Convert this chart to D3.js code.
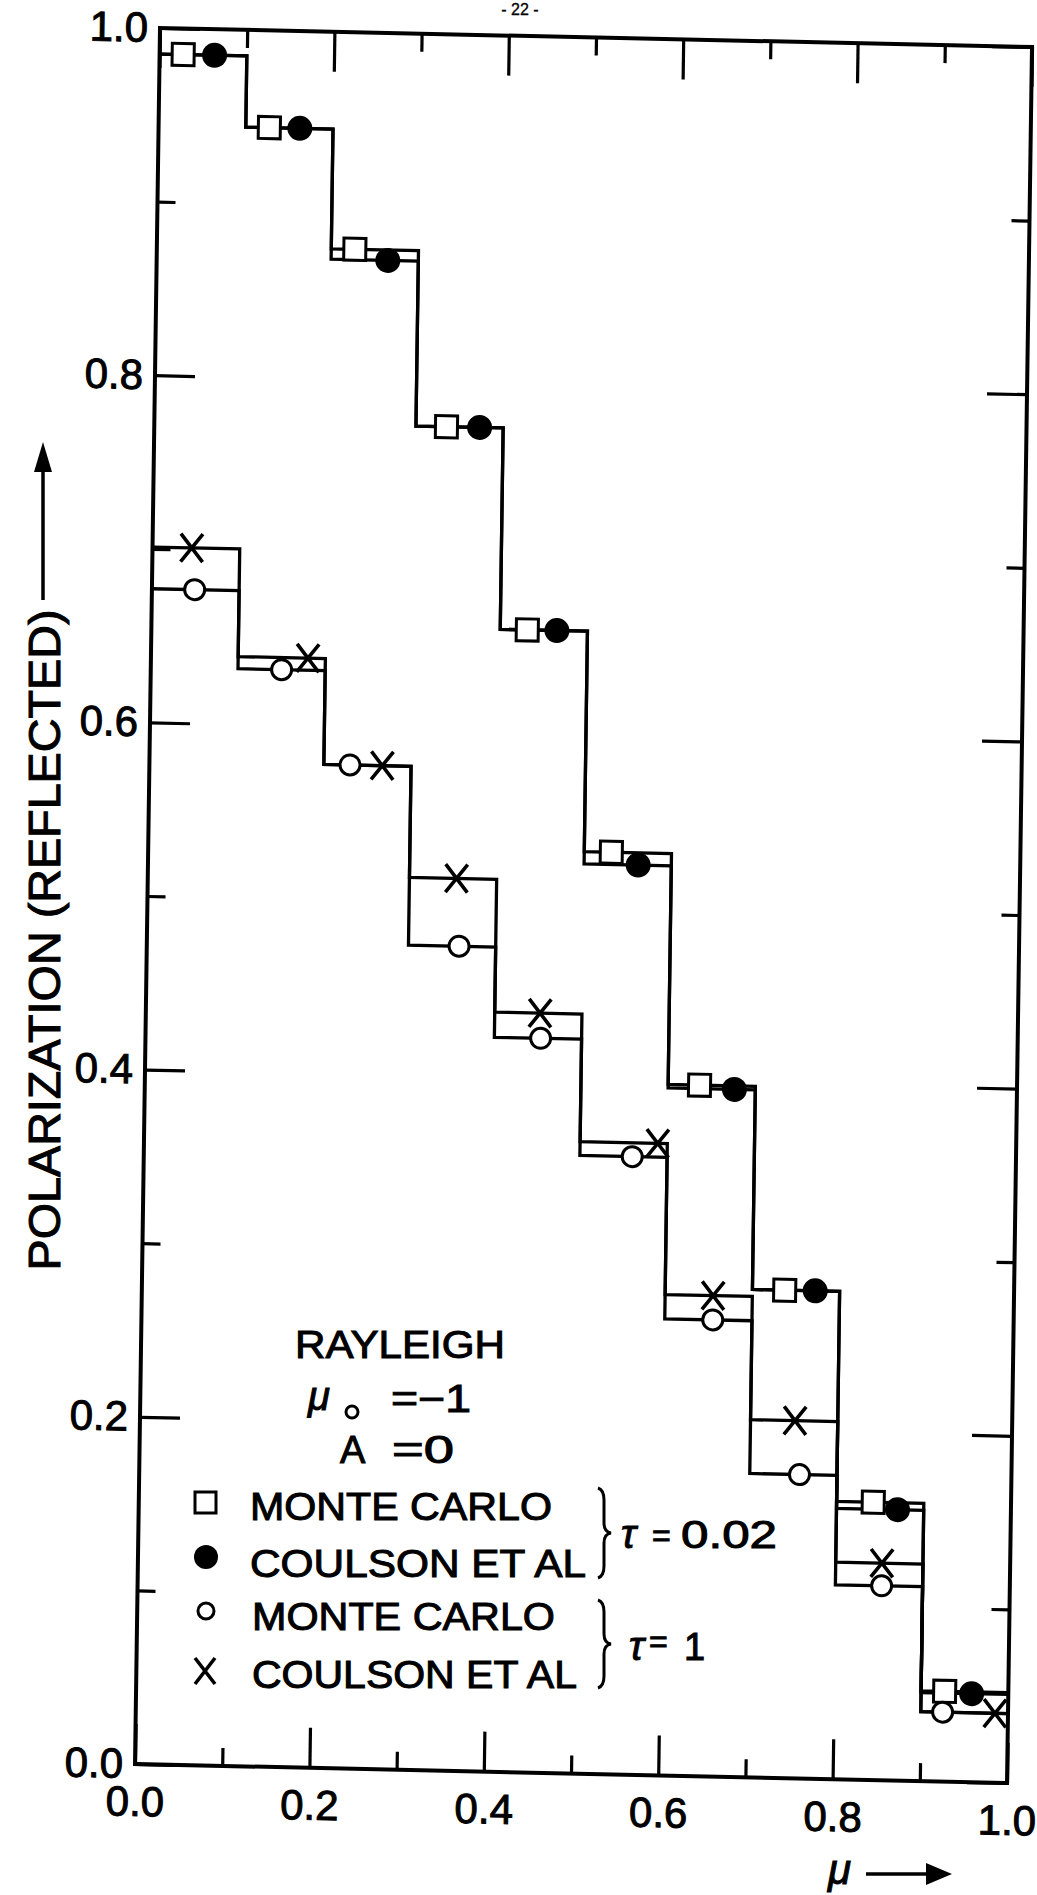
<!DOCTYPE html>
<html><head><meta charset="utf-8">
<script src="https://cdn.jsdelivr.net/npm/d3@7/dist/d3.min.js"></script>
<style>
html,body{margin:0;padding:0;background:#fff;}
svg{display:block;}
text{font-family:"Liberation Sans",Arial,sans-serif;fill:#000;stroke:#000;stroke-width:1px;}
</style>
</head><body>
<svg id="chart" width="1037" height="1895"></svg>
<script>
// ---------- data ----------
const binEdges = [0, 0.1, 0.2, 0.3, 0.4, 0.5, 0.6, 0.7, 0.8, 0.9, 1.0];
const majorTicks = [0, 0.2, 0.4, 0.6, 0.8, 1.0];
const minorTicks = [0.1, 0.3, 0.5, 0.7, 0.9];
const tickLabels = ["0.0", "0.2", "0.4", "0.6", "0.8", "1.0"];

// tau = 0.02
const monteCarloThin = [0.985, 0.944, 0.875, 0.774, 0.658, 0.531, 0.398, 0.281, 0.160, 0.052];
const coulsonThin    = [0.985, 0.944, 0.869, 0.774, 0.658, 0.524, 0.396, 0.281, 0.156, 0.051];
// tau = 1
const monteCarloThick = [0.677, 0.632, 0.578, 0.475, 0.423, 0.356, 0.263, 0.175, 0.112, 0.040];
const coulsonThick    = [0.701, 0.639, 0.578, 0.514, 0.4375, 0.364, 0.277, 0.206, 0.125, 0.040];

// mu at which each marker is plotted inside its bin
const squareMu = [0.027, 0.127, 0.227, 0.335, 0.431, 0.531, 0.636, 0.737, 0.842, 0.927];
const dotMu    = [0.063, 0.162, 0.265, 0.373, 0.465, 0.562, 0.676, 0.772, 0.870, 0.958];
const ringMu   = [0.049, 0.150, 0.230, 0.358, 0.453, 0.560, 0.655, 0.757, 0.853, 0.925];
const crossMu  = [0.045, 0.180, 0.267, 0.354, 0.452, 0.589, 0.655, 0.751, 0.853, 0.985];

const legendLabels = ["MONTE CARLO", "COULSON ET AL", "MONTE CARLO", "COULSON ET AL"];

// ---------- layout ----------
const W = 872, H = 1736;
const svg = d3.select("#chart");
svg.append("rect").attr("width", 1037).attr("height", 1895).attr("fill", "#fff");

// the scanned figure is slightly sheared; reproduce with an affine transform
const g = svg.append("g").attr("transform", "matrix(1,0.0218,-0.0144,1,160,28)");

const x = d3.scaleLinear().domain([0, 1]).range([0, W]);
const y = d3.scaleLinear().domain([0, 1]).range([H, 0]);

const MAJ = 40, MIN = 18;
function styleAxis(sel) {
  sel.select(".domain").remove();
  sel.selectAll(".tick line").attr("stroke", "#000").attr("stroke-width", 3.2);
  sel.selectAll(".tick text").attr("font-size", 42).attr("font-family", '"Liberation Sans",Arial,sans-serif').attr("fill", "#000");
}
const fmt = d => tickLabels[majorTicks.indexOf(d)];

// bottom
g.append("g").attr("transform", `translate(0,${H})`)
  .call(d3.axisBottom(x).tickValues(majorTicks).tickSizeInner(-MAJ).tickSizeOuter(0).tickPadding(22).tickFormat(fmt)).call(styleAxis);
g.append("g").attr("transform", `translate(0,${H})`)
  .call(d3.axisBottom(x).tickValues(minorTicks).tickSizeInner(-MIN).tickSizeOuter(0).tickFormat("")).call(styleAxis);
// top
g.append("g").call(d3.axisTop(x).tickValues(majorTicks).tickSizeInner(-MAJ).tickSizeOuter(0).tickFormat("")).call(styleAxis);
g.append("g").call(d3.axisTop(x).tickValues(minorTicks).tickSizeInner(-MIN).tickSizeOuter(0).tickFormat("")).call(styleAxis);
// left
g.append("g").call(d3.axisLeft(y).tickValues(majorTicks).tickSizeInner(-MAJ).tickSizeOuter(0).tickPadding(12).tickFormat(fmt)).call(styleAxis);
g.append("g").call(d3.axisLeft(y).tickValues(minorTicks).tickSizeInner(-MIN).tickSizeOuter(0).tickFormat("")).call(styleAxis);
// right
g.append("g").attr("transform", `translate(${W},0)`)
  .call(d3.axisRight(y).tickValues(majorTicks).tickSizeInner(-MAJ).tickSizeOuter(0).tickFormat("")).call(styleAxis);
g.append("g").attr("transform", `translate(${W},0)`)
  .call(d3.axisRight(y).tickValues(minorTicks).tickSizeInner(-MIN).tickSizeOuter(0).tickFormat("")).call(styleAxis);

// frame
g.append("rect").attr("x", x(0)).attr("y", y(1)).attr("width", x(1) - x(0)).attr("height", y(0) - y(1))
  .attr("fill", "none").attr("stroke", "#000").attr("stroke-width", 4);

// step lines
const step = d3.line().curve(d3.curveStepAfter).x(d => x(d.mu)).y(d => y(d.v));
function stepData(vals) { return binEdges.map((e, i) => ({ mu: e, v: vals[Math.min(i, vals.length - 1)] })); }
[monteCarloThin, coulsonThin, monteCarloThick, coulsonThick].forEach(vals => {
  g.append("path").datum(stepData(vals)).attr("d", step)
    .attr("fill", "none").attr("stroke", "#000").attr("stroke-width", 3.3).attr("stroke-linejoin", "miter");
});

// markers
function pts(mus, vals) { return mus.map((m, i) => ({ mu: m, v: vals[i] })); }
const SQ = 22;
g.selectAll("rect.sq").data(pts(squareMu, monteCarloThin)).join("rect").attr("class", "sq")
  .attr("x", d => x(d.mu) - SQ / 2).attr("y", d => y(d.v) - SQ / 2).attr("width", SQ).attr("height", SQ)
  .attr("fill", "#fff").attr("stroke", "#000").attr("stroke-width", 3);
g.selectAll("circle.dot").data(pts(dotMu, coulsonThin)).join("circle").attr("class", "dot")
  .attr("cx", d => x(d.mu)).attr("cy", d => y(d.v)).attr("r", 12.5).attr("fill", "#000");
g.selectAll("circle.ring").data(pts(ringMu, monteCarloThick)).join("circle").attr("class", "ring")
  .attr("cx", d => x(d.mu)).attr("cy", d => y(d.v)).attr("r", 10).attr("fill", "#fff")
  .attr("stroke", "#000").attr("stroke-width", 3);
function crossPath(cx, cy, hw, hh) {
  return `M${cx - hw},${cy - hh}L${cx + hw},${cy + hh}M${cx + hw},${cy - hh}L${cx - hw},${cy + hh}`;
}
g.selectAll("path.cross").data(pts(crossMu, coulsonThick)).join("path").attr("class", "cross")
  .attr("d", d => crossPath(x(d.mu), y(d.v), 11, 14))
  .attr("stroke", "#000").attr("stroke-width", 3.6).attr("fill", "none");

// ---------- axis titles ----------
svg.append("text").attr("transform", "translate(60,940) rotate(-90)")
  .attr("text-anchor", "middle").attr("font-size", 45)
  .attr("textLength", 661).attr("lengthAdjust", "spacingAndGlyphs")
  .text("POLARIZATION (REFLECTED)");
svg.append("line").attr("x1", 43).attr("x2", 43).attr("y1", 600).attr("y2", 468)
  .attr("stroke", "#000").attr("stroke-width", 3.5);
svg.append("path").attr("d", "M43,442L34,472L52,472Z").attr("fill", "#000");

svg.append("text").attr("x", 828).attr("y", 1884).attr("font-size", 42).attr("font-style", "italic")
  .attr("font-family", '"Liberation Serif",serif').text("μ");
svg.append("line").attr("x1", 866).attr("x2", 930).attr("y1", 1874).attr("y2", 1874)
  .attr("stroke", "#000").attr("stroke-width", 3.5);
svg.append("path").attr("d", "M952,1874L926,1863L926,1885Z").attr("fill", "#000");

// page number
svg.append("text").attr("x", 520).attr("y", 15).attr("text-anchor", "middle").attr("font-size", 16)
  .style("stroke-width", "0.3px").text("- 22 -");

// ---------- legend ----------
const FS = 38;
svg.append("text").attr("x", 295).attr("y", 1358).attr("font-size", FS)
  .attr("textLength", 210).attr("lengthAdjust", "spacingAndGlyphs").text("RAYLEIGH");
svg.append("text").attr("x", 308).attr("y", 1410).attr("font-size", 40).attr("font-style", "italic")
  .attr("font-family", '"Liberation Serif",serif').text("μ");
svg.append("circle").attr("cx", 352).attr("cy", 1412).attr("r", 6).attr("fill", "none").attr("stroke", "#000").attr("stroke-width", 3);
svg.append("text").attr("x", 391).attr("y", 1412).attr("font-size", FS)
  .attr("textLength", 80).attr("lengthAdjust", "spacingAndGlyphs").text("=−1");
svg.append("text").attr("x", 340).attr("y", 1463).attr("font-size", FS).text("A");
svg.append("text").attr("x", 392).attr("y", 1463).attr("font-size", FS)
  .attr("textLength", 62).attr("lengthAdjust", "spacingAndGlyphs").text("=0");

const rowY = [1520, 1577, 1630, 1688];
const rowLen = [302, 336, 303, 325];
legendLabels.forEach((t, i) => {
  svg.append("text").attr("x", i < 2 ? 250 : 252).attr("y", rowY[i]).attr("font-size", FS)
    .attr("textLength", rowLen[i]).attr("lengthAdjust", "spacingAndGlyphs").text(t);
});
svg.append("rect").attr("x", 195).attr("y", 1492).attr("width", 21).attr("height", 21)
  .attr("fill", "#fff").attr("stroke", "#000").attr("stroke-width", 3);
svg.append("circle").attr("cx", 206).attr("cy", 1557).attr("r", 12).attr("fill", "#000");
svg.append("circle").attr("cx", 206).attr("cy", 1611).attr("r", 8).attr("fill", "#fff")
  .attr("stroke", "#000").attr("stroke-width", 3);
svg.append("path").attr("d", crossPath(205, 1671, 10, 13)).attr("stroke", "#000").attr("stroke-width", 3.6);

function brace(xl, y0, y1) {
  const m = (y0 + y1) / 2, xm = xl + 6, xt = xl + 13;
  return `M${xl},${y0}Q${xm},${y0 + 2} ${xm},${y0 + 12}L${xm},${m - 10}Q${xm},${m - 1} ${xt},${m}` +
         `Q${xm},${m + 1} ${xm},${m + 10}L${xm},${y1 - 12}Q${xm},${y1 - 2} ${xl},${y1}`;
}
svg.append("path").attr("d", brace(598, 1488, 1578)).attr("fill", "none").attr("stroke", "#000").attr("stroke-width", 3);
svg.append("path").attr("d", brace(598, 1600, 1688)).attr("fill", "none").attr("stroke", "#000").attr("stroke-width", 3);

svg.append("text").attr("x", 621).attr("y", 1548).attr("font-size", 40).attr("font-style", "italic")
  .attr("font-family", '"Liberation Serif",serif').text("τ");
svg.append("text").attr("x", 652).attr("y", 1546).attr("font-size", 32).text("=");
svg.append("text").attr("x", 681).attr("y", 1548).attr("font-size", FS)
  .attr("textLength", 96).attr("lengthAdjust", "spacingAndGlyphs").text("0.02");
svg.append("text").attr("x", 629).attr("y", 1660).attr("font-size", 40).attr("font-style", "italic")
  .attr("font-family", '"Liberation Serif",serif').text("τ");
svg.append("text").attr("x", 649).attr("y", 1652).attr("font-size", 32).text("=");
svg.append("text").attr("x", 684).attr("y", 1660).attr("font-size", FS).text("1");
</script>
</body></html>
